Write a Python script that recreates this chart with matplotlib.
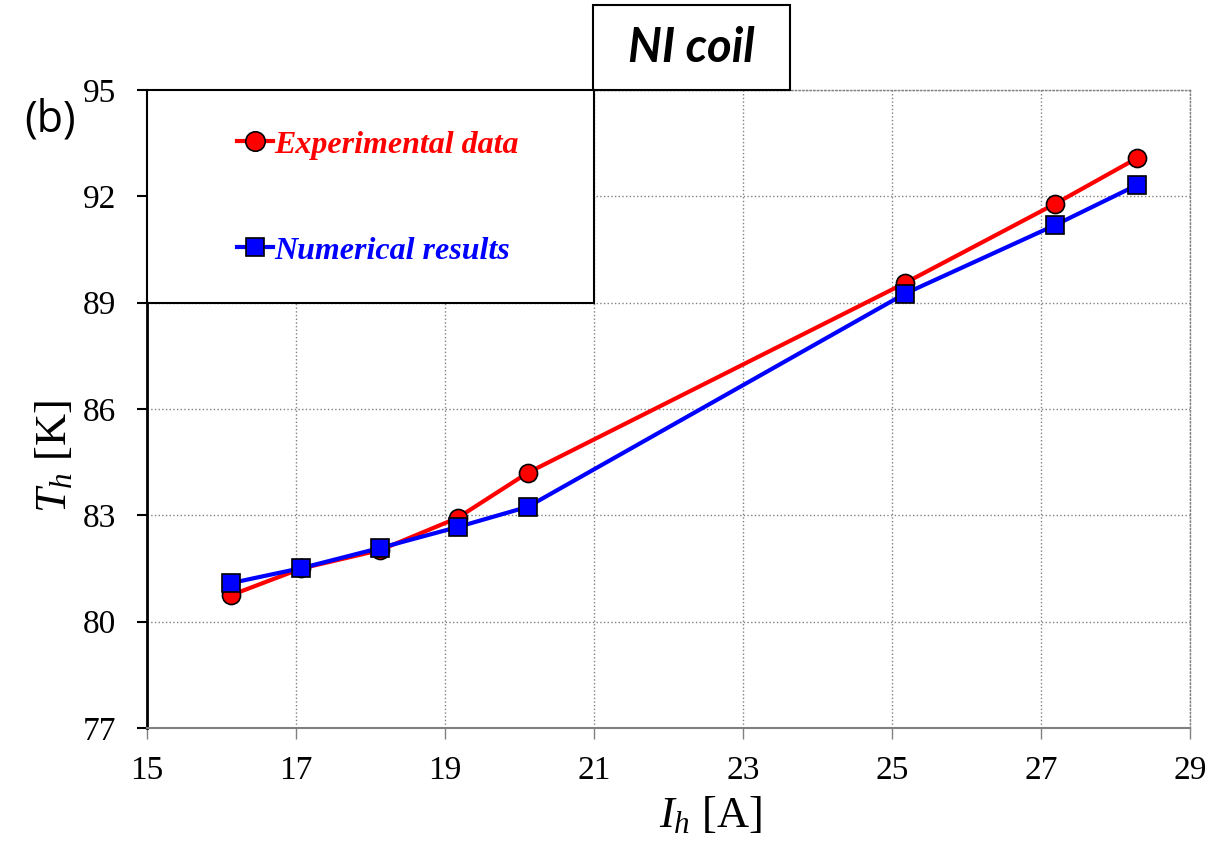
import matplotlib
matplotlib.use('Agg')
import matplotlib.pyplot as plt
from matplotlib.patches import Rectangle
from matplotlib.lines import Line2D

# Data
current = [16.13, 17.07, 18.13, 19.17, 20.11, 25.17, 27.19, 28.29]
temp_exp = [80.75, 81.50, 82.02, 82.93, 84.20, 89.55, 91.79, 93.08]
temp_num = [81.09, 81.51, 82.08, 82.67, 83.24, 89.25, 91.19, 92.32]

xticks = [15, 17, 19, 21, 23, 25, 27, 29]
yticks = [77, 80, 83, 86, 89, 92, 95]

plt.rcParams['mathtext.fontset'] = 'custom'
plt.rcParams['mathtext.rm'] = 'Liberation Serif'
plt.rcParams['mathtext.it'] = 'Liberation Serif:italic'

fig = plt.figure(figsize=(12.11, 8.42), dpi=100)
ax = fig.add_axes([0.1214, 0.1354, 0.8613, 0.7577])

ax.plot(current, temp_exp, color='red', lw=3, marker='o', ms=13,
        mfc='red', mec='black', mew=1.2, zorder=3)
ax.plot(current, temp_num, color='blue', lw=3, marker='s', ms=13,
        mfc='blue', mec='black', mew=1.2, zorder=4)

ax.set_xlim(15, 29)
ax.set_ylim(77, 95)
ax.set_xticks(xticks)
ax.set_yticks(yticks)
ax.grid(True, color='gray', ls=':', lw=1)

for lab in ax.get_xticklabels() + ax.get_yticklabels():
    lab.set_fontfamily('Liberation Serif')
    lab.set_fontsize(24)
ax.tick_params(axis='y', direction='out', length=7, width=1.5, color='black', pad=15)
ax.tick_params(axis='x', direction='out', length=8, width=1, color='gray', pad=12)

ax.spines['left'].set_linewidth(2)
ax.spines['left'].set_color('black')
ax.spines['bottom'].set_color('gray')
ax.spines['bottom'].set_linewidth(1.5)
for s in ['top', 'right']:
    ax.spines[s].set_color('gray')
    ax.spines[s].set_linestyle(':')
    ax.spines[s].set_linewidth(1)

ax.set_xlabel(r'$I_h$ [A]', fontfamily='Liberation Serif', fontsize=32)
ax.set_ylabel(r'$T_h$ [K]', fontfamily='Liberation Serif', fontsize=32)
ax.xaxis.set_label_coords(0.54, -0.105)
ax.yaxis.set_label_coords(-0.069, 0.425)

# legend box
ax.add_patch(Rectangle((0, 12 / 18), 447 / 1043, 6 / 18, transform=ax.transAxes,
                       fill=True, facecolor='white', edgecolor='black', lw=1.5,
                       zorder=5, clip_on=False))
handles = [
    Line2D([], [], color='red', lw=3, marker='o', ms=14, mfc='red', mec='black', mew=1.2),
    Line2D([], [], color='blue', lw=3, marker='s', ms=13, mfc='blue', mec='black', mew=1.2),
]
leg = ax.legend(handles, ['Experimental data', 'Numerical results'],
                loc='center left', bbox_to_anchor=(0.071, 0.8308), frameon=False,
                borderpad=0, handlelength=1.12, handletextpad=0.05,
                labelspacing=2.4,
                prop={'family': 'Liberation Serif', 'style': 'italic',
                      'weight': 'bold', 'size': 23})
leg.set_zorder(6)
for t, c in zip(leg.get_texts(), ['red', 'blue']):
    t.set_color(c)

# title box
fig.patches.append(Rectangle((593 / 1211, 1 - 90 / 842), 197 / 1211, 85 / 842,
                             transform=fig.transFigure, fill=False,
                             edgecolor='black', lw=1.5))
fig.text(691 / 1211, 1 - 48 / 842, 'NI coil', ha='center', va='center',
         fontfamily='Lato', fontweight='bold', fontstyle='italic', fontsize=34)

fig.text(50 / 1211, 1 - 120 / 842, '(b)', ha='center', va='center',
         fontfamily='Open Sans', fontsize=31)

plt.savefig('out.png', dpi=100)
